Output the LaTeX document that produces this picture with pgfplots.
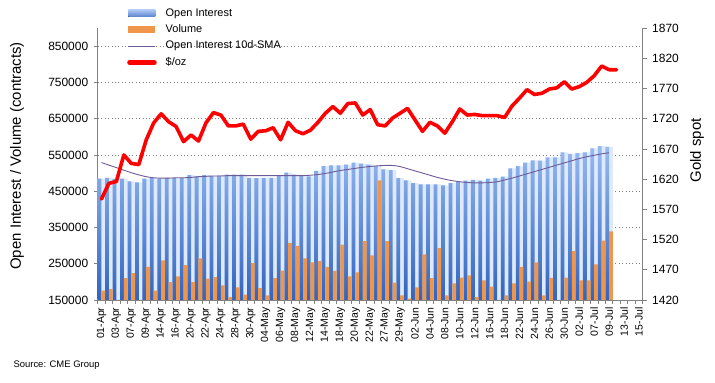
\documentclass[border=0pt]{standalone}
\usepackage{pgfplots}
\pgfplotsset{compat=1.18}
\usepackage{pgfplotstable}
\usepackage{fontspec}
\setmainfont{Liberation Sans}
\definecolor{oidark}{RGB}{50,100,192}
\definecolor{oilight}{RGB}{150,186,242}
\definecolor{oipale}{RGB}{222,233,249}
\definecolor{volc}{RGB}{240,150,75}
\definecolor{smac}{RGB}{110,90,150}
\definecolor{axc}{RGB}{130,130,130}
\definecolor{gridc}{RGB}{125,125,125}

\pgfplotstableread{
i oi vol sma
0 485000 176000 529000
1 487000 180000 522000
2 484000 140000 515000
3 485000 210000 508000
4 477000 224000 501000
5 474000 140000 495000
6 485000 241000 490000
7 486000 176000 487000
8 485000 259000 486000
9 487000 199000 486000
10 487000 215000 487000
11 487000 246000 487000
12 494000 199000 488000
13 491000 265000 490000
14 494000 209000 491000
15 492000 213000 492000
16 493000 190000 492000
17 496000 158000 493000
18 496000 185000 493000
19 496000 165000 493000
20 487000 252000 493000
21 486000 183000 493000
22 487000 163000 493000
23 487000 210000 493000
24 492000 231000 493000
25 501000 307000 493000
26 496000 299000 493000
27 492000 265000 493000
28 491000 254000 494000
29 506000 257000 496000
30 519000 241000 499000
31 521000 230000 503000
32 521000 303000 507000
33 523000 215000 510000
34 529000 226000 513000
35 526000 312000 516000
36 523000 273000 518000
37 519000 480000 520000
38 510000 312000 521000
39 508000 198000 521000
40 486000 163000 518000
41 480000 154000 512000
42 472000 185000 506000
43 469000 276000 500000
44 469000 210000 494000
45 469000 293000 488000
46 466000 163000 483000
47 472000 196000 479000
48 475000 212000 476000
49 479000 218000 474000
50 481000 158000 473000
51 479000 204000 473000
52 485000 187000 474000
53 487000 140000 476000
54 490000 163000 481000
55 513000 196000 486000
56 519000 241000 492000
57 529000 201000 498000
58 535000 254000 504000
59 534000 163000 510000
60 543000 211000 516000
61 543000 140000 522000
62 557000 212000 528000
63 553000 285000 534000
64 555000 204000 540000
65 557000 204000 545000
66 568000 248000 549000
67 574000 314000 553000
68 572000 339000 556000
}\maindata

\pgfplotstableread{
i gold
0 1587
1 1613
2 1616
3 1660
4 1646
5 1644
6 1685
7 1713
8 1728
9 1715
10 1707
11 1682
12 1693
13 1683
14 1713
15 1730
16 1726
17 1708
18 1708
19 1711
20 1686
21 1699
22 1700
23 1705
24 1685
25 1714
26 1700
27 1695
28 1701
29 1714
30 1729
31 1740
32 1729
33 1745
34 1746
35 1726
36 1735
37 1710
38 1708
39 1721
40 1729
41 1737
42 1718
43 1699
44 1714
45 1708
46 1696
47 1715
48 1736
49 1726
50 1727
51 1725
52 1725
53 1725
54 1722
55 1741
56 1754
57 1768
58 1760
59 1762
60 1769
61 1771
62 1781
63 1769
64 1773
65 1780
66 1791
67 1807
68 1801
69 1801
}\golddata

\begin{document}
\begin{tikzpicture}
\useasboundingbox (0,0) rectangle (715bp,383bp);
\begin{axis}[
  at={(97.7bp,83bp)}, anchor=south west,
  scale only axis, width=545bp, height=272bp,
  xmin=-0.5, xmax=72.5, ymin=150000, ymax=900000,
  axis x line*=bottom, axis y line*=left,
  axis line style={axc, line width=0.8bp},
  every outer x axis line/.append style={-},
  every outer y axis line/.append style={-},
  tick align=outside, major tick length=4bp, minor tick length=4bp,
  ytick={150000,250000,...,850000},
  ytick style={axc, line width=0.7bp},
  ymajorgrids=true,
  major grid style={gridc, line width=0.85bp, dash pattern=on 0.85bp off 2.6bp},
  scaled y ticks=false,
  /pgf/number format/.cd, fixed, 1000 sep={}, assume math mode=true, /pgfplots/.cd,
  yticklabel style={font=\fontsize{12}{14}\selectfont, xshift=-2bp},
  xtick={0,2,...,72},
  xticklabels={01-Apr,03-Apr,07-Apr,09-Apr,14-Apr,16-Apr,20-Apr,22-Apr,24-Apr,28-Apr,30-Apr,04-May,06-May,08-May,12-May,14-May,18-May,20-May,22-May,27-May,29-May,02-Jun,04-Jun,08-Jun,10-Jun,12-Jun,16-Jun,18-Jun,22-Jun,24-Jun,26-Jun,30-Jun,02-Jul,07-Jul,09-Jul,13-Jul,15-Jul},
  minor xtick={-0.5,0.5,...,72.5},
  major x tick style={draw=none},
  minor x tick style={axc, line width=0.7bp},
  xticklabel style={rotate=90, anchor=east, font=\fontsize{10.5}{12}\selectfont},
  ylabel={Open Interest / Volume (contracts)},
  ylabel style={font=\fontsize{15}{18}\selectfont, at={(axis description cs:-0.148,0.53)}, anchor=center},
  legend cell align=left,
  legend style={at={(axis description cs:0.0538,1.074)}, anchor=north west, draw=none, fill=none,
    inner sep=0pt, row sep=5.9bp, font=\fontsize{11}{13}\selectfont,
    nodes={inner sep=0pt, text height=8bp, text depth=2.5bp},
    /tikz/every odd column/.style={column sep=9bp}},
]
\addplot[ybar, bar width=7.466bp, bar shift=0pt, draw=none, fill=oipale, forget plot] table[x=i,y=oi]{\maindata};
\addplot[ybar, bar width=3.8bp, bar shift=-1.85bp, draw=none, top color=oilight, bottom color=oidark,
  legend image code/.code={\fill[top color=oilight!80!white, bottom color=oidark!80!white] (0bp,-3.5bp) rectangle (27bp,3.5bp);}] table[x=i,y=oi]{\maindata};
\addlegendentry{Open Interest}
\addplot[ybar, bar width=3.8bp, bar shift=1.9bp, draw=none, fill=volc,
  legend image code/.code={\fill[volc] (0bp,-3.5bp) rectangle (27bp,3.5bp);}] table[x=i,y=vol]{\maindata};
\addlegendentry{Volume}
\addplot[smac, line width=0.9bp, smooth, no marks,
  legend image code/.code={\draw[smac, line width=0.9bp] (0bp,0bp) -- (27bp,0bp);}] table[x=i,y=sma]{\maindata};
\addlegendentry{Open Interest 10d-SMA}
\addlegendimage{legend image code/.code={\draw[red, line width=4.5bp, line cap=round] (1bp,0bp) -- (26bp,0bp);}}
\addlegendentry{\$/oz}
\end{axis}
\begin{axis}[
  at={(97.7bp,83bp)}, anchor=south west,
  scale only axis, width=545bp, height=272bp,
  xmin=-0.5, xmax=72.5, ymin=1420, ymax=1870,
  axis x line=none, axis y line*=right,
  axis line style={axc, line width=0.8bp},
  every outer y axis line/.append style={-},
  tick align=outside, major tick length=4bp,
  ytick={1420,1470,...,1870},
  ytick style={axc, line width=0.7bp},
  /pgf/number format/.cd, fixed, 1000 sep={}, assume math mode=true, /pgfplots/.cd,
  yticklabel style={font=\fontsize{12}{14}\selectfont, xshift=2bp},
  ylabel={Gold spot},
  ylabel style={font=\fontsize{15}{18}\selectfont, at={(axis description cs:1.0996,0.55)}, anchor=center},
]
\addplot[red, line width=3.6bp, line join=round, line cap=round, no marks] table[x=i,y=gold]{\golddata};
\end{axis}
\node[anchor=west, font=\fontsize{9.5}{11}\selectfont] at (10bp,18bp) {Source: CME Group};
\end{tikzpicture}
\end{document}
